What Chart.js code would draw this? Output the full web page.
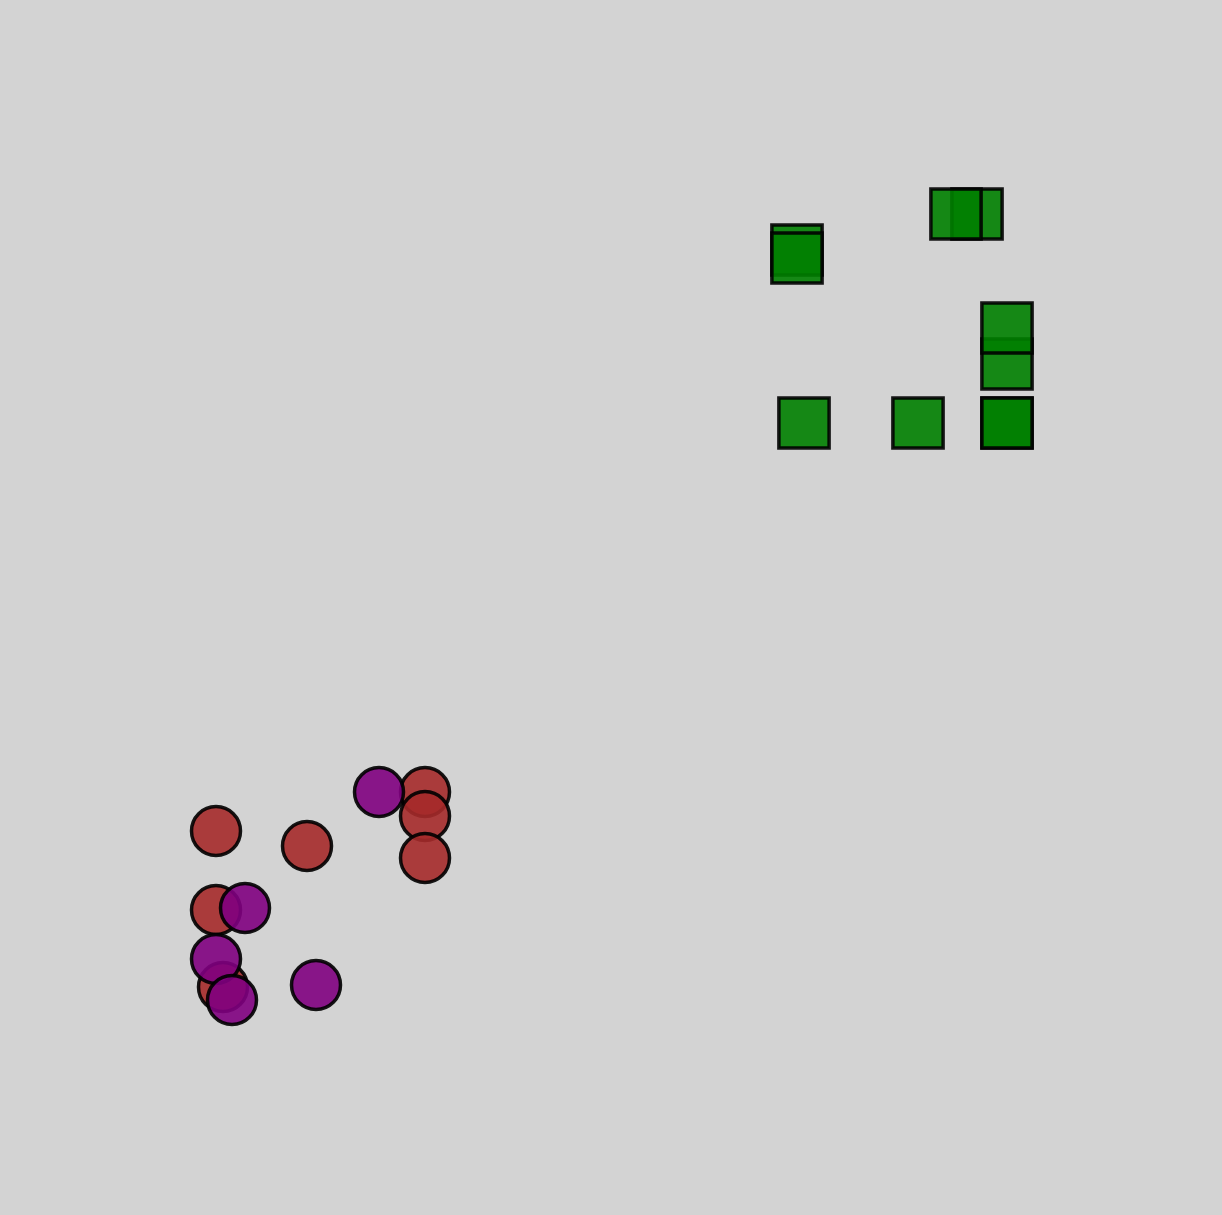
<!DOCTYPE html>
<html>
<head>
<meta charset="utf-8">
<script src="https://cdn.jsdelivr.net/npm/chart.js@4/dist/chart.umd.min.js"></script>
<style>
  html, body { margin: 0; padding: 0; background: #d3d3d3; }
  #wrap { width: 1222px; height: 1215px; position: relative; }
</style>
</head>
<body>
<div id="wrap"><canvas id="c"></canvas></div>
<script>
// Data values (arbitrary units; x to the right, y upward)
const redX    = [216, 307, 425, 425, 425, 216, 223];
const redY    = [384, 369, 423, 399, 357, 305, 228];
const purpleX = [379, 245, 216, 232, 316];
const purpleY = [423, 307, 256, 215, 230];
const greenX  = [804, 918, 1007, 1007, 1007, 1007, 797, 797, 977, 956];
const greenY  = [792, 792, 792, 792, 851, 887, 965, 957, 1001, 1001];

const toPts = (xs, ys) => xs.map((x, i) => ({ x: x, y: ys[i] }));

const bgPlugin = {
  id: 'bg',
  beforeDraw(chart) {
    const ctx = chart.ctx;
    ctx.save();
    ctx.fillStyle = '#d3d3d3';
    ctx.fillRect(0, 0, chart.width, chart.height);
    ctx.restore();
  }
};

new Chart(document.getElementById('c'), {
  type: 'scatter',
  data: {
    datasets: [
      {
        label: 'green',
        data: toPts(greenX, greenY),
        pointStyle: 'rect',
        pointRadius: 35.5,
        pointHoverRadius: 35.5,
        backgroundColor: 'rgba(0,128,0,0.9)',
        borderColor: 'rgba(0,0,0,0.9)',
        borderWidth: 3.5,
        order: 3
      },
      {
        label: 'red',
        data: toPts(redX, redY),
        pointStyle: 'circle',
        pointRadius: 24.5,
        pointHoverRadius: 24.5,
        backgroundColor: 'rgba(165,42,42,0.9)',
        borderColor: 'rgba(0,0,0,0.9)',
        borderWidth: 3.5,
        order: 2
      },
      {
        label: 'purple',
        data: toPts(purpleX, purpleY),
        pointStyle: 'circle',
        pointRadius: 24.5,
        pointHoverRadius: 24.5,
        backgroundColor: 'rgba(128,0,128,0.9)',
        borderColor: 'rgba(0,0,0,0.9)',
        borderWidth: 3.5,
        order: 1
      }
    ]
  },
  options: {
    responsive: true,
    maintainAspectRatio: false,
    animation: false,
    clip: false,
    layout: { padding: 0, autoPadding: false },
    plugins: { legend: { display: false }, tooltip: { enabled: false } },
    scales: {
      x: { type: 'linear', min: 0, max: 1222, display: false },
      y: { type: 'linear', min: 0, max: 1215, display: false }
    }
  },
  plugins: [bgPlugin]
});
</script>
</body>
</html>
